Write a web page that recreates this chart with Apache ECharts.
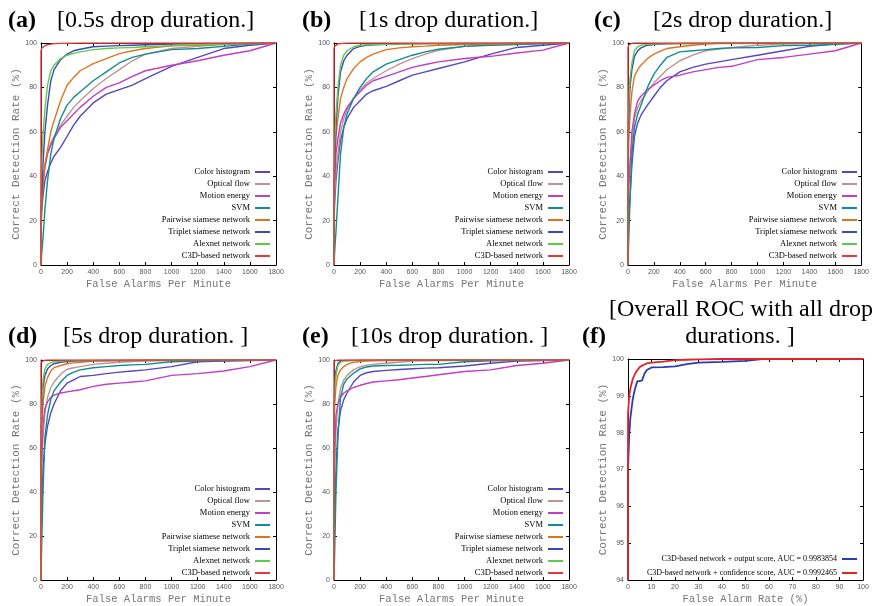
<!DOCTYPE html>
<html>
<head>
<meta charset="utf-8">
<script src="https://cdn.jsdelivr.net/npm/echarts@6/dist/echarts.min.js"></script>
<style>
html,body{margin:0;padding:0;background:#fff;}
#chart{width:872px;height:606px;}
</style>
</head>
<body>
<div id="chart"></div>
<script>
// ---------- DATA ----------
const seriesNames = ['Color histogram','Optical flow','Motion energy','SVM','Pairwise siamese network','Triplet siamese network','Alexnet network','C3D-based network'];
const seriesColors = ['#5646c0','#c09292','#c23ec2','#0e8e8e','#e0741e','#3a48b8','#5ccd4a','#e8383a'];
const panelTitles = ['[0.5s drop duration.]','[1s drop duration.]','[2s drop duration.]','[5s drop duration. ]','[10s drop duration. ]'];
const panelLetters = ['(a)','(b)','(c)','(d)','(e)','(f)'];
const fTitle1 = '[Overall ROC with all drop';
const fTitle2 = 'durations. ]';
const xTicksMinute = [0,200,400,600,800,1000,1200,1400,1600,1800];
const yTicksRate = [0,20,40,60,80,100];
const fXTicks = [0,10,20,30,40,50,60,70,80,90,100];
const fYTicks = [94,95,96,97,98,99,100];

// shared false-alarm grid (per minute) for panels a-e
const X = [0, 0, 5, 15, 30, 50, 75, 100, 150, 200, 250, 300, 400, 500, 600, 700, 800, 1000, 1200, 1400, 1600, 1800];

const a_hist   = [0, 18, 24, 31, 38, 42, 46, 49, 53, 58, 63, 67, 73, 77, 79, 81, 84, 89.5, 93.5, 97.5, 99, 100];
const a_flow   = [0, 20, 28, 38, 45, 51, 55, 58, 63, 67, 71, 74, 79.5, 84, 88, 92, 95, 97.5, 98.5, 99.3, 99.8, 100];
const a_motion = [0, 20, 28, 37, 44, 50, 54, 57, 62, 65, 68, 71, 76, 80, 82, 85, 87.5, 90, 92, 94.5, 96.5, 100];
const a_svm    = [0, 0, 5, 12, 25, 38, 50, 57, 66, 72, 75.5, 78, 83, 87, 91, 93.5, 95, 97, 97.5, 98.5, 99.5, 100];
const a_pair   = [0, 15, 25, 35, 45, 52, 60, 65, 74, 81, 84.5, 87.5, 90.7, 93, 95.2, 96.5, 97.5, 98.7, 99, 99.5, 99.8, 100];
const a_trip   = [0, 20, 30, 45, 60, 72, 83, 88, 92.5, 95, 96.5, 97.2, 98.3, 98.6, 98.8, 99, 99.2, 99.5, 99.7, 99.8, 99.9, 100];
const a_alex   = [0, 30, 45, 58, 70, 81, 87.5, 90, 93, 94.5, 95.3, 96, 97, 97.5, 97.8, 98, 98.3, 98.8, 99.2, 99.5, 99.8, 100];
const a_c3d    = [0, 96.5, 97.5, 98.3, 98.8, 99.2, 99.5, 99.7, 99.85, 99.9, 99.95, 100, 100, 100, 100, 100, 100, 100, 100, 100, 100, 100];

const b_hist   = [0, 20, 28, 38, 47, 56, 62, 66, 71, 74, 77, 78.5, 80.5, 83, 85.5, 87, 88.5, 91.5, 95, 98, 99, 100];
const b_flow   = [0, 22, 32, 42, 50, 60, 66, 70, 75, 79, 82, 84, 87.5, 90.5, 93, 95, 96.7, 98.5, 99.3, 99.7, 99.9, 100];
const b_motion = [0, 25, 38, 50, 57, 64, 68, 71, 75, 78, 81, 83, 85, 87, 89, 90.3, 91.5, 93, 94, 95.5, 96.8, 100];
const b_svm    = [0, 0, 6, 15, 30, 50, 62, 68, 75, 80, 84, 87, 90.5, 92.5, 94.5, 96, 97.2, 98.5, 99, 99.3, 99.6, 100];
const b_pair   = [0, 30, 45, 58, 66, 75, 80, 84, 88.5, 91.5, 93.5, 95, 97, 97.8, 98.3, 98.6, 99, 99.3, 99.5, 99.7, 99.9, 100];
const b_trip   = [0, 30, 45, 62, 76, 87, 92, 94.5, 97.5, 98.5, 99, 99.2, 99.4, 99.5, 99.6, 99.7, 99.7, 99.8, 99.85, 99.9, 99.95, 100];
const b_alex   = [0, 40, 55, 68, 80, 90, 94.5, 96.5, 98.3, 99, 99.2, 99.3, 99.4, 99.5, 99.6, 99.6, 99.7, 99.8, 99.85, 99.9, 99.95, 100];
const b_c3d    = [0, 97.5, 98.5, 99.2, 99.6, 99.8, 99.9, 99.95, 100, 100, 100, 100, 100, 100, 100, 100, 100, 100, 100, 100, 100, 100];

const c_hist   = [0, 15, 22, 30, 45, 58, 64, 67.5, 72, 76, 80, 83, 87, 89, 90.5, 91.5, 92.5, 94.5, 96.5, 98.5, 99.5, 100];
const c_flow   = [0, 25, 35, 45, 55, 66, 71, 74, 78, 82, 85, 88, 92, 94.5, 96.5, 97.3, 98, 99, 99.5, 99.8, 99.9, 100];
const c_motion = [0, 25, 35, 45, 60, 68, 74, 76, 79, 81, 83, 84.5, 85.5, 87, 88, 89, 89.5, 92.5, 93.5, 95, 96.5, 100];
const c_svm    = [0, 0, 10, 28, 50, 62, 68, 72, 80, 86, 90, 93.5, 96, 96.5, 97, 97.5, 97.8, 98, 98.8, 99, 99.4, 100];
const c_pair   = [0, 40, 55, 67, 78, 85, 88, 90, 93, 95, 96.3, 97.5, 98.3, 99, 99.5, 99.7, 99.8, 99.9, 100, 100, 100, 100];
const c_trip   = [0, 50, 65, 80, 88, 94, 96.5, 97.8, 99, 99.3, 99.5, 99.6, 99.7, 99.8, 99.85, 99.9, 99.9, 99.95, 100, 100, 100, 100];
const c_alex   = [0, 60, 72, 84, 91, 96.5, 98.3, 99, 99.4, 99.5, 99.6, 99.7, 99.75, 99.8, 99.85, 99.9, 99.9, 99.95, 100, 100, 100, 100];
const c_c3d    = [0, 98, 99, 99.6, 99.9, 100, 100, 100, 100, 100, 100, 100, 100, 100, 100, 100, 100, 100, 100, 100, 100, 100];

const d_hist   = [0, 15, 30, 50, 62, 70, 76, 80, 86, 89.5, 91, 92.5, 93, 93.8, 94.5, 95, 95.5, 97, 99.2, 99.5, 99.7, 100];
const d_flow   = [0, 30, 50, 65, 76, 83, 87.5, 90, 93.5, 95.8, 96.5, 97, 98, 98.5, 99, 99.3, 99.5, 99.7, 99.8, 99.9, 99.95, 100];
const d_motion = [0, 35, 55, 70, 78, 81, 83, 84, 85, 85.5, 86, 86.5, 88, 89, 89.5, 90, 90.5, 93, 93.8, 95, 97, 100];
const d_svm    = [0, 0, 15, 40, 65, 75, 82, 86, 90, 93, 94.5, 95.5, 96.5, 97, 97.5, 97.8, 98, 99.2, 99.5, 99.7, 99.9, 100];
const d_pair   = [0, 50, 68, 80, 88, 92, 95, 96.5, 97.5, 98.3, 98.7, 99, 99.5, 99.6, 99.7, 99.8, 99.85, 99.9, 99.95, 100, 100, 100];
const d_trip   = [0, 60, 75, 87, 93, 96, 97.5, 98.3, 99, 99.3, 99.5, 99.6, 99.7, 99.75, 99.8, 99.85, 99.9, 99.95, 100, 100, 100, 100];
const d_alex   = [0, 65, 80, 91, 96, 98, 98.8, 99.2, 99.5, 99.6, 99.7, 99.75, 99.8, 99.85, 99.9, 99.9, 99.95, 100, 100, 100, 100, 100];
const d_c3d    = [0, 99, 99.5, 99.8, 99.9, 100, 100, 100, 100, 100, 100, 100, 100, 100, 100, 100, 100, 100, 100, 100, 100, 100];

const e_hist   = [0, 15, 30, 50, 68, 77, 82, 85, 90, 93, 94.2, 94.8, 95.3, 95.7, 96, 96.3, 96.5, 97.3, 98.5, 99.5, 99.8, 100];
const e_flow   = [0, 30, 50, 68, 80, 87, 91, 93, 95.5, 97, 97.6, 98, 98.5, 99, 99.5, 99.6, 99.7, 99.8, 99.9, 99.95, 100, 100];
const e_motion = [0, 40, 60, 75, 80, 83, 85, 86, 87.5, 88.5, 89.3, 90, 90.5, 91, 91.8, 92.5, 93.3, 94.8, 95.5, 97.5, 98.5, 100];
const e_svm    = [0, 0, 12, 40, 65, 83, 89, 91.5, 94, 96, 96.8, 97.3, 97.5, 97.6, 97.8, 98, 98, 99.2, 99.6, 99.8, 99.9, 100];
const e_pair   = [0, 60, 80, 88, 93, 95.5, 97, 98, 99, 99.3, 99.5, 99.6, 99.7, 99.8, 99.85, 99.9, 99.9, 99.95, 100, 100, 100, 100];
const e_trip   = [0, 75, 88, 95, 98.5, 99.5, 99.7, 99.8, 99.85, 99.9, 99.9, 99.95, 100, 100, 100, 100, 100, 100, 100, 100, 100, 100];
const e_alex   = [0, 70, 85, 93, 97.5, 99, 99.5, 99.6, 99.7, 99.75, 99.8, 99.85, 99.9, 99.9, 99.95, 100, 100, 100, 100, 100, 100, 100];
const e_c3d    = [0, 99.5, 99.8, 100, 100, 100, 100, 100, 100, 100, 100, 100, 100, 100, 100, 100, 100, 100, 100, 100, 100, 100];

// panel f: false alarm rate (%)
const F_X      = [0, 0, 0.5, 1, 2, 3, 4, 5, 6, 7, 8, 10, 15, 20, 25, 30, 40, 50, 57, 60, 80, 100];
const f_output = [94, 97, 97.9, 98.4, 98.9, 99.2, 99.4, 99.4, 99.42, 99.6, 99.7, 99.77, 99.78, 99.8, 99.86, 99.9, 99.92, 99.95, 100, 100, 100, 100];
const f_conf   = [94, 98.5, 99.0, 99.2, 99.45, 99.6, 99.7, 99.78, 99.82, 99.85, 99.88, 99.9, 99.93, 99.97, 99.98, 99.99, 100, 100, 100, 100, 100, 100];
const fNames = ['C3D-based network + output score, AUC = 0.9983854','C3D-based network + confidence score, AUC = 0.9992465'];
const fColors = ['#2a3cb0','#e02424'];

const panels = [
  [a_hist,a_flow,a_motion,a_svm,a_pair,a_trip,a_alex,a_c3d],
  [b_hist,b_flow,b_motion,b_svm,b_pair,b_trip,b_alex,b_c3d],
  [c_hist,c_flow,c_motion,c_svm,c_pair,c_trip,c_alex,c_c3d],
  [d_hist,d_flow,d_motion,d_svm,d_pair,d_trip,d_alex,d_c3d],
  [e_hist,e_flow,e_motion,e_svm,e_pair,e_trip,e_alex,e_c3d]
];

// ---------- LAYOUT ----------
const grids = [
  {left:41, top:43, width:235, height:222},
  {left:334, top:43, width:235, height:222},
  {left:628, top:43, width:235, height:222},
  {left:41, top:360, width:235, height:223},
  {left:334, top:360, width:235, height:223},
  {left:628, top:359, width:235, height:223}
];

const plain = v => String(v);
const tickLabel = {fontSize:7, color:'#555', fontFamily:'Liberation Sans', margin:4, formatter: plain};
const axisNameStyle = {fontFamily:'Liberation Mono', color:'#777', fontSize:11};

const xAxes = [], yAxes = [];
grids.forEach((g, i) => {
  const isF = i === 5;
  const xmin = 0, xmax = isF ? 100 : 1800, xint = isF ? 10 : 200;
  const ymin = isF ? 94 : 0, ymax = 100, yint = isF ? 1 : 20;
  const base = {
    type:'value', gridIndex:i, splitLine:{show:false},
    axisLine:{show:true, onZero:false, lineStyle:{color:'#000', width:1}},
    axisTick:{show:true, inside:true, length:3, lineStyle:{color:'#000'}}
  };
  xAxes.push(Object.assign({}, base, {
    position:'bottom', min:xmin, max:xmax, interval:xint,
    axisLabel:Object.assign({}, tickLabel),
    name: isF ? 'False Alarm Rate (%)' : 'False Alarms Per Minute',
    nameLocation:'middle', nameGap:14, nameTextStyle:Object.assign({}, axisNameStyle, {fontSize:10.5})
  }));
  xAxes.push(Object.assign({}, base, {
    position:'top', min:xmin, max:xmax, interval:xint, axisLabel:{show:false}
  }));
  yAxes.push(Object.assign({}, base, {
    position:'left', min:ymin, max:ymax, interval:yint,
    axisLabel:Object.assign({}, tickLabel),
    name:'Correct Detection Rate (%)', nameLocation:'middle', nameRotate:90, nameGap:16,
    nameTextStyle:Object.assign({}, axisNameStyle)
  }));
  yAxes.push(Object.assign({}, base, {
    position:'right', min:ymin, max:ymax, interval:yint, axisLabel:{show:false}
  }));
});

const series = [];
panels.forEach((vals, p) => {
  vals.forEach((ys, k) => {
    series.push({
      type:'line', name:seriesNames[k], xAxisIndex:2*p, yAxisIndex:2*p,
      data: X.map((x, j) => [x, ys[j]]),
      showSymbol:false, symbol:'none', animation:false,
      lineStyle:{color:seriesColors[k], width:1.4},
      itemStyle:{color:seriesColors[k]}
    });
  });
});
[f_output, f_conf].forEach((ys, k) => {
  series.push({
    type:'line', name:fNames[k], xAxisIndex:10, yAxisIndex:10,
    data: F_X.map((x, j) => [x, ys[j]]),
    showSymbol:false, symbol:'none', animation:false,
    lineStyle:{color:fColors[k], width:1.8},
    itemStyle:{color:fColors[k]}
  });
});

const legendBase = {
  orient:'vertical', align:'right', icon:'rect', itemWidth:15, itemHeight:2, itemGap:0,
  selectedMode:false, padding:0,
  textStyle:{fontFamily:'Liberation Serif', fontSize:8.5, color:'#000', lineHeight:12}
};
const legendPos = [
  {right:602, top:166}, {right:309, top:166}, {right:15, top:166},
  {right:602, top:483}, {right:309, top:483}
];
const legends = legendPos.map(pos => Object.assign({}, legendBase, pos, {data:seriesNames}));
legends.push(Object.assign({}, legendBase, {right:15, top:553, data:fNames, itemGap:2,
  textStyle:{fontFamily:'Liberation Serif', fontSize:8, color:'#000', lineHeight:12}}));

// titles
const graphics = [];
const letterPos = [[8,21],[302,21],[594,21],[8,337],[302,337],[582,337]];
const textPos = [[57,21],[359,21],[653,21],[63,337],[351,337]];
letterPos.forEach((p, i) => {
  graphics.push({type:'text', x:p[0], y:p[1], style:{text:panelLetters[i], font:'bold 24px "Liberation Serif"', fill:'#000', verticalAlign:'middle', align:'left'}});
});
textPos.forEach((p, i) => {
  graphics.push({type:'text', x:p[0], y:p[1], style:{text:panelTitles[i], font:'24px "Liberation Serif"', fill:'#000', verticalAlign:'middle', align:'left'}});
});
graphics.push({type:'text', x:741, y:310, style:{text:fTitle1, font:'24px "Liberation Serif"', fill:'#000', verticalAlign:'middle', align:'center'}});
graphics.push({type:'text', x:740, y:337, style:{text:fTitle2, font:'24px "Liberation Serif"', fill:'#000', verticalAlign:'middle', align:'center'}});

const chart = echarts.init(document.getElementById('chart'), null, {renderer:'canvas'});
chart.setOption({
  backgroundColor:'#fff',
  animation:false,
  grid: grids.map(g => Object.assign({containLabel:false}, g)),
  xAxis: xAxes,
  yAxis: yAxes,
  legend: legends,
  series: series,
  graphic: graphics
});
</script>
</body>
</html>
